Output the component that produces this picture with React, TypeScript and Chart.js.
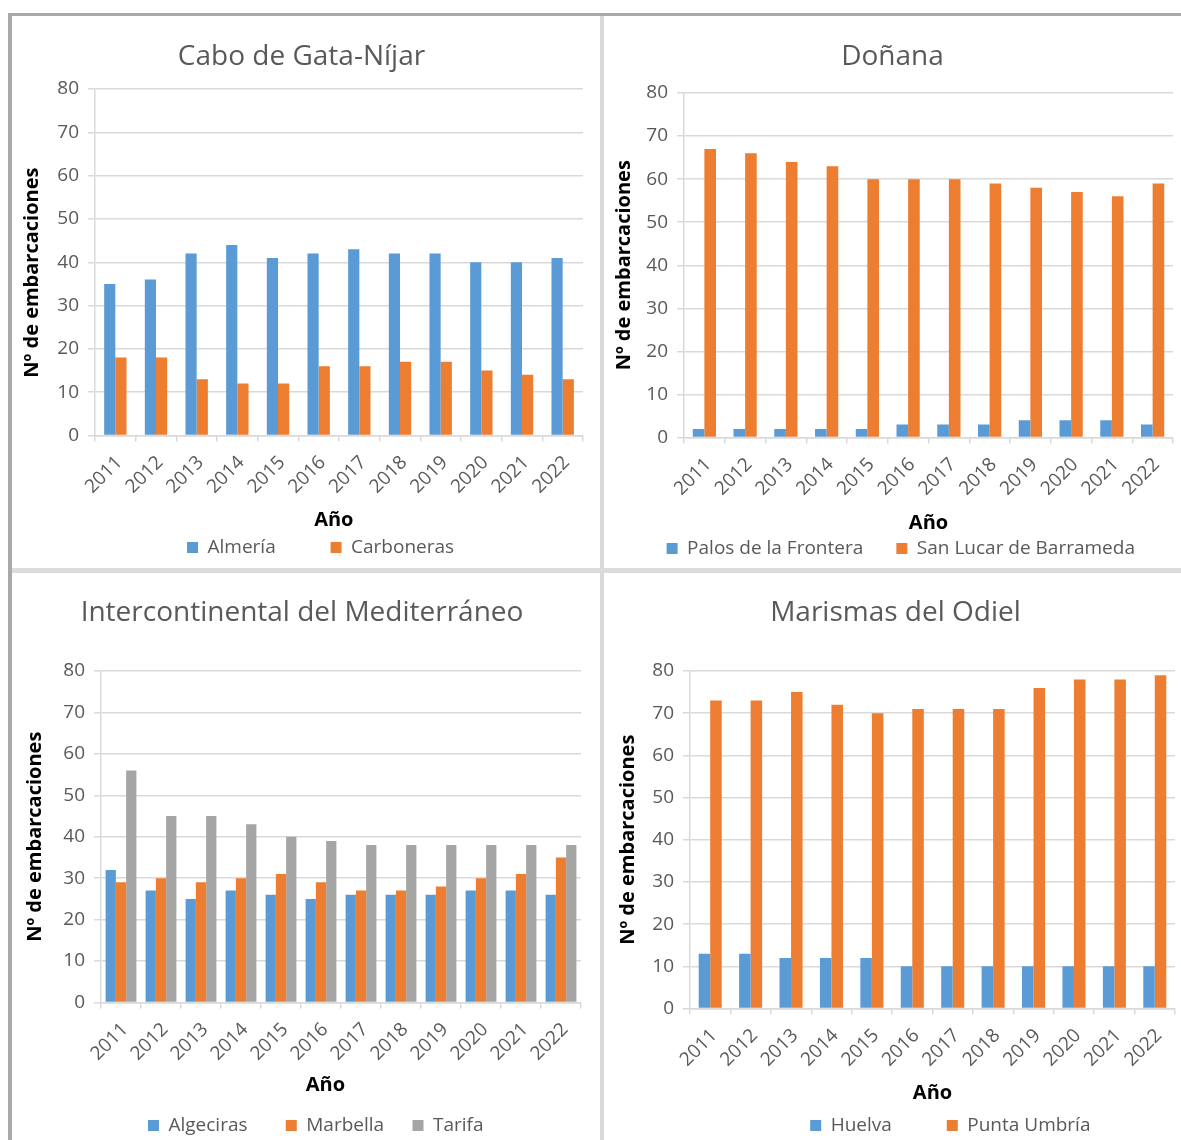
import React, { useEffect, useRef } from 'react';
import { Chart, registerables } from 'chart.js';

Chart.register(...registerables);

// ---------- data ----------
const YEARS = ['2011', '2012', '2013', '2014', '2015', '2016', '2017', '2018', '2019', '2020', '2021', '2022'];

const ALMERIA = [35, 36, 42, 44, 41, 42, 43, 42, 42, 40, 40, 41];
const CARBONERAS = [18, 18, 13, 12, 12, 16, 16, 17, 17, 15, 14, 13];

const PALOS = [2, 2, 2, 2, 2, 3, 3, 3, 4, 4, 4, 3];
const SANLUCAR = [67, 66, 64, 63, 60, 60, 60, 59, 58, 57, 56, 59];

const ALGECIRAS = [32, 27, 25, 27, 26, 25, 26, 26, 26, 27, 27, 26];
const MARBELLA = [29, 30, 29, 30, 31, 29, 27, 27, 28, 30, 31, 35];
const TARIFA = [56, 45, 45, 43, 40, 39, 38, 38, 38, 38, 38, 38];

const HUELVA = [13, 13, 12, 12, 12, 10, 10, 10, 10, 10, 10, 10];
const PUNTA_UMBRIA = [73, 73, 75, 72, 70, 71, 71, 71, 76, 78, 78, 79];

const Y_TITLE = 'Nº de embarcaciones';
const X_TITLE = 'Año';

// ---------- styles ----------
const BLUE = '#5B9BD5';
const ORANGE = '#ED7D31';
const GRAY = '#A5A5A5';
const GRID = '#D9D9D9';
const TEXT = '#595959';
const FAMILY = '"Open Sans", "Noto Sans", sans-serif';
const TITLE_SIZE = 28;
const TL = TITLE_SIZE * 1.2;
const AX_SIZE = 20;
const AXL = AX_SIZE * 1.2;
const TICK_SIZE = 19;
const LEG_SIZE = 19;
const BOX = 11;

type Series = { label: string; data: number[]; color: string };
type Panel = {
  title: string;
  series: Series[];
  left: number; top: number; W: number; H: number;
  tc: number; pt: number; pb: number; xc: number; lc: number;
  yx: number; pl: number; pr: number;
  boxes: number[];
  cat: number;
  yShift: number; // spaces appended to y title (moves it down)
  xShift: number; // spaces appended to x title (moves it left)
};

const PANELS: Panel[] = [
  {
    title: 'Cabo de Gata-Níjar',
    series: [
      { label: 'Almería', data: ALMERIA, color: BLUE },
      { label: 'Carboneras', data: CARBONERAS, color: ORANGE },
    ],
    left: 12, top: 16, W: 588, H: 552,
    tc: 41, pt: 73, pb: 420, xc: 505, lc: 532, yx: 20, pl: 83, pr: 571,
    boxes: [176, 321], cat: 0.55, yShift: 4, xShift: 2,
  },
  {
    title: 'Doñana',
    series: [
      { label: 'Palos de la Frontera', data: PALOS, color: BLUE },
      { label: 'San Lucar de Barrameda', data: SANLUCAR, color: ORANGE },
    ],
    left: 604, top: 16, W: 586, H: 552,
    tc: 41, pt: 77, pb: 422, xc: 508, lc: 533, yx: 20, pl: 80, pr: 569,
    boxes: [66, 294], cat: 0.57, yShift: 0, xShift: 0,
  },
  {
    title: 'Intercontinental del Mediterráneo',
    series: [
      { label: 'Algeciras', data: ALGECIRAS, color: BLUE },
      { label: 'Marbella', data: MARBELLA, color: ORANGE },
      { label: 'Tarifa', data: TARIFA, color: GRAY },
    ],
    left: 12, top: 573, W: 588, H: 577,
    tc: 40, pt: 98, pb: 430, xc: 513, lc: 553, yx: 23, pl: 89, pr: 569,
    boxes: [134, 272, 401], cat: 0.77, yShift: 0, xShift: 6,
  },
  {
    title: 'Marismas del Odiel',
    series: [
      { label: 'Huelva', data: HUELVA, color: BLUE },
      { label: 'Punta Umbría', data: PUNTA_UMBRIA, color: ORANGE },
    ],
    left: 604, top: 573, W: 586, H: 577,
    tc: 40, pt: 98, pb: 436, xc: 521, lc: 553, yx: 24, pl: 86, pr: 571,
    boxes: [207, 344], cat: 0.57, yShift: 0, xShift: 0,
  },
];

function makeGenerateLabels(boxes: number[], right: number, pad: number) {
  return (chart: any) => {
    const items = (Chart.defaults as any).plugins.legend.labels.generateLabels(chart);
    const ctx: CanvasRenderingContext2D = chart.ctx;
    ctx.save();
    ctx.font = `${LEG_SIZE}px ${FAMILY}`;
    const sp = ctx.measureText(' ').width || 5;
    items.forEach((it: any, i: number) => {
      const target = i < items.length - 1 ? boxes[i + 1] - boxes[i] - pad : right - pad - boxes[i];
      const textTarget = target - BOX - LEG_SIZE / 2;
      const base = String(it.text);
      const n = Math.max(0, Math.round((textTarget - ctx.measureText(base).width) / sp));
      it.text = base + ' '.repeat(n);
    });
    ctx.restore();
    return items;
  };
}

function PanelChart({ p }: { p: Panel }) {
  const ref = useRef<HTMLCanvasElement | null>(null);
  useEffect(() => {
    if (!ref.current) return;
    const padLeft = p.yx - AXL / 2;
    const padRight = p.W - p.pr;
    const padBottom = p.H - p.lc - 19;
    const legPad = (p.lc - LEG_SIZE / 2) - (p.xc + AXL / 2);
    const chart = new Chart(ref.current, {
      type: 'bar',
      data: {
        labels: YEARS,
        datasets: p.series.map((s) => ({
          label: s.label,
          data: s.data,
          backgroundColor: s.color,
          borderWidth: 0,
          categoryPercentage: p.cat,
          barPercentage: 1.0,
        })),
      },
      options: {
        responsive: false,
        animation: false,
        devicePixelRatio: 1,
        layout: { padding: { top: 0, left: padLeft, right: padRight, bottom: padBottom } },
        plugins: {
          title: {
            display: true,
            text: p.title,
            color: TEXT,
            font: { family: FAMILY, size: TITLE_SIZE, weight: 'normal' },
            padding: { top: p.tc - TL / 2, bottom: p.pt - p.tc - TL / 2 },
          },
          legend: {
            display: true,
            position: 'bottom',
            align: 'end',
            labels: {
              boxWidth: BOX,
              boxHeight: BOX,
              padding: legPad,
              color: TEXT,
              font: { family: FAMILY, size: LEG_SIZE },
              generateLabels: makeGenerateLabels(p.boxes, p.W - padRight, legPad),
            },
          },
          tooltip: { enabled: false },
        },
        scales: {
          x: {
            grid: { drawOnChartArea: false, drawTicks: true, tickLength: 6, offset: true, color: GRID, lineWidth: 1.5 },
            border: { display: true, color: GRID, width: 1.5 },
            ticks: {
              color: TEXT,
              font: { family: FAMILY, size: TICK_SIZE },
              minRotation: 45,
              maxRotation: 45,
              autoSkip: false,
              padding: 10,
              labelOffset: 4,
            },
            title: {
              display: true,
              text: X_TITLE + ' '.repeat(p.xShift),
              color: '#000000',
              font: { family: FAMILY, size: AX_SIZE, weight: 'bold' },
              padding: 0,
            },
            afterFit: (s: any) => { s.height = p.xc + AXL / 2 - p.pb; },
          },
          y: {
            min: 0,
            max: 80,
            ticks: { stepSize: 10, color: TEXT, font: { family: FAMILY, size: TICK_SIZE }, padding: 9 },
            grid: { color: GRID, lineWidth: 1.5, tickLength: 7 },
            border: { display: true, color: GRID, width: 1.5 },
            title: {
              display: true,
              text: Y_TITLE + ' '.repeat(p.yShift),
              color: '#000000',
              font: { family: FAMILY, size: AX_SIZE, weight: 'bold' },
              padding: 0,
            },
            afterFit: (s: any) => { s.width = p.pl - padLeft; },
          },
        },
      } as any,
    });
    return () => chart.destroy();
  }, [p]);
  return (
    <canvas
      ref={ref}
      width={p.W}
      height={p.H}
      style={{ position: 'absolute', left: p.left, top: p.top, width: p.W, height: p.H }}
    />
  );
}

export default function App() {
  return (
    <div
      style={{
        position: 'absolute',
        left: 0,
        top: 0,
        width: 1181,
        height: 1140,
        overflow: 'hidden',
        background: '#ffffff',
      }}
    >
      {PANELS.map((p, i) => (
        <PanelChart key={i} p={p} />
      ))}
      {/* frame lines */}
      <div style={{ position: 'absolute', left: 8, top: 13, width: 1180, height: 3, background: '#A9A9A9' }} />
      <div style={{ position: 'absolute', left: 8, top: 13, width: 4, height: 1140, background: '#ABA8A8' }} />
      <div style={{ position: 'absolute', left: 600, top: 16, width: 4, height: 1130, background: '#D9D9D9' }} />
      <div style={{ position: 'absolute', left: 12, top: 568, width: 1180, height: 5, background: '#DCDCDC' }} />
    </div>
  );
}
